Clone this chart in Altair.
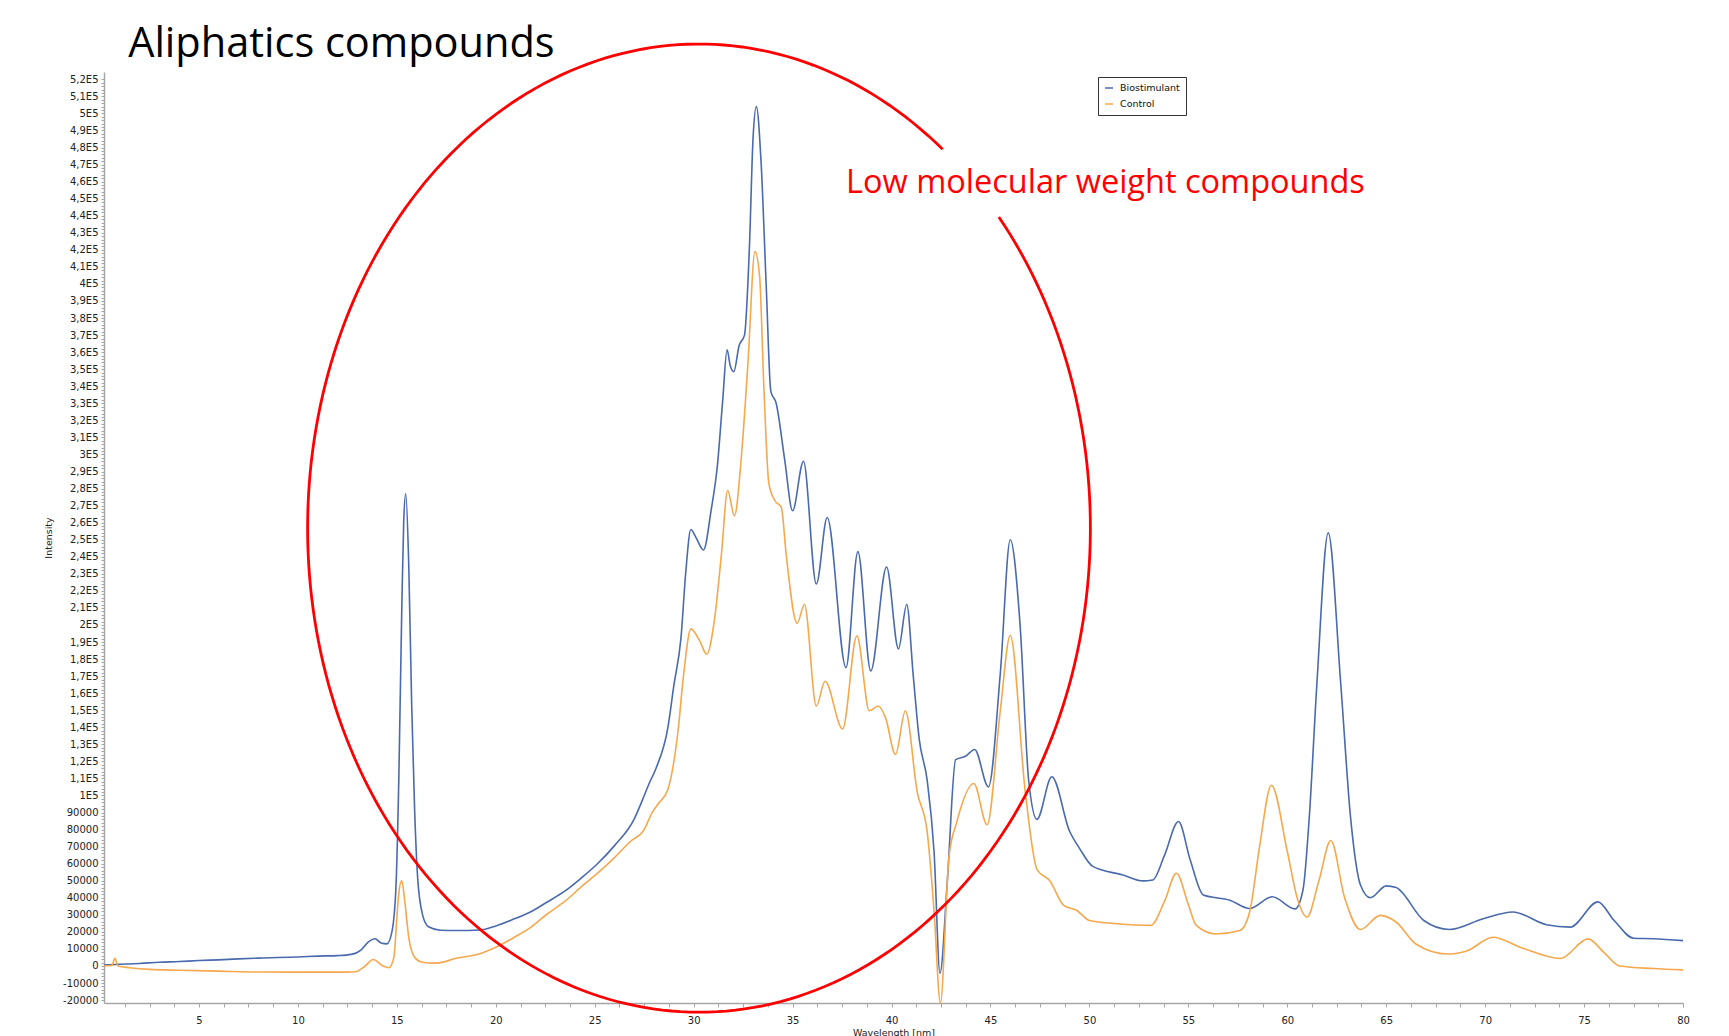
import math
import altair as alt
import pandas as pd

# ---- data (intensity read in thousands) ----
bio_x = [0.2, 1, 2, 3, 4, 5, 6, 7, 8, 9, 10, 11, 12, 12.7, 13.2, 13.55, 13.9, 14.2, 14.5, 14.75,
         14.95, 15.1, 15.25, 15.35, 15.45, 15.6, 15.75, 15.9, 16.05, 16.3, 16.6, 17.2, 18, 19.2, 20,
         20.9, 21.8, 22.6, 23.5, 24.3, 25.1, 26.0, 27.0, 27.4, 27.75, 28.1, 28.7, 29.0, 29.36, 29.6,
         29.86, 30.1, 30.5, 30.88, 31.2, 31.47, 31.69, 31.85, 32.03, 32.3, 32.57, 32.82, 33.0, 33.17,
         33.41, 33.67, 33.9, 34.17, 34.6, 35.0, 35.55, 36.2, 36.75, 37.7, 38.3, 38.95, 39.75, 40.35,
         40.77, 41.1, 41.4, 41.8, 42.15, 42.45, 42.82, 43.24, 43.74, 44.2, 44.9, 45.5, 46.0, 46.5,
         46.93, 47.35, 48.1, 49.0, 49.5, 50.17, 51.7, 52.7, 53.2, 53.8, 54.5, 55.1, 55.76, 57.1, 58.1,
         59.24, 60.4, 60.8, 61.1, 61.5, 62.07, 62.7, 63.2, 63.7, 64.2, 65.0, 65.5, 66.9, 68.2, 69.9,
         71.4, 73.1, 74.3, 75.7, 76.5, 77.5, 78.5, 80]
bio_y = [0.5, 1.0, 1.5, 2.2, 2.6, 3.2, 3.6, 4.2, 4.6, 5.0, 5.3, 5.8, 6.1, 6.8, 9.5, 14, 16, 13.5, 13, 20,
         45, 110, 210, 262, 277, 236, 153, 91, 52, 30, 23, 21, 20.8, 21.1, 23.5,
         27.5, 32, 37.5, 44, 51.4, 59.5, 70.6, 86.3, 97, 107, 116, 140, 164.6, 192.5, 230.8,
         256, 251.7, 244, 267, 293.5, 332, 361.4, 352, 348.6, 364, 370, 422, 485, 504,
         471, 398, 337, 330, 297, 267, 296, 224, 263, 175, 243, 173, 234, 186,
         212, 170, 133, 109, 67, -4.3, 49.7, 121, 123, 127, 105, 172, 250, 199.5,
         109, 86, 111, 79, 69, 58.4, 53.4, 49.9, 50.4, 65, 84.7, 62, 41.6, 38.6, 33.7,
         40.6, 33.5, 45, 85, 166, 254, 166, 87, 47.5, 40, 47, 46, 26.7, 21.4, 27.7,
         31.7, 24.2, 22.8, 37.6, 27, 16.3, 16, 14.9]

ctl_x = [0.2, 0.6, 0.75, 0.9, 1.5, 2.5, 4, 6, 8, 10, 12.5, 12.9, 13.4, 13.8, 14.3, 14.6, 14.85, 15.0,
         15.12, 15.25, 15.4, 15.6, 15.85, 16.2, 16.6, 17, 18, 19.2, 20.0, 20.9, 21.8, 22.6, 23.5, 24.3,
         25.1, 26.0, 26.8, 27.5, 27.9, 28.2, 28.7, 29.2, 29.5, 29.86, 30.3, 30.66, 31.05, 31.4, 31.72,
         32.06, 32.4, 32.74, 33.1, 33.33, 33.55, 33.8, 34.1, 34.43, 34.68, 35.23, 35.6, 36.2, 36.64,
         37.53, 38.25, 38.88, 39.33, 39.7, 40.2, 40.7, 41.3, 41.8, 42.15, 42.47, 42.9, 43.3, 44.16,
         44.83, 45.5, 46.0, 46.76, 47.35, 48.0, 48.7, 49.35, 50.0, 51.4, 53.1, 53.8, 54.4, 55.0, 55.4,
         56.4, 57.6, 58.1, 58.6, 59.2, 60.0, 60.5, 61.0, 61.6, 62.2, 62.9, 63.7, 64.7, 65.5, 66.5,
         68.1, 69.1, 70.4, 71.8, 73.8, 75.2, 76.0, 76.8, 78.5, 80]
ctl_y = [0, 0.3, 4.5, 0, -1, -2, -2.5, -3, -3.5, -3.6, -3.6, -3.4, 0, 3.8, 0, -1, 5, 28,
         45, 50, 38, 17, 6, 2.5, 1.8, 1.7, 4.5, 7.2, 11, 16.6, 23, 30.5, 38, 46.2,
         54, 63.6, 73, 80, 90, 95, 103.7, 136.8, 171.6, 197.7, 190.8, 182.8, 203, 241, 278.9,
         264, 297, 352.7, 419, 405, 339, 283, 273, 269, 241, 201, 212, 152.5, 167,
         139, 193.6, 149.7, 152.5, 145.5, 124, 149.7, 102, 79, 32, -21.5, 63.6, 84.5, 107,
         82.8, 150, 194, 102, 56.7, 50, 35.6, 32.7, 26.7, 24.8, 23.8, 38, 54.4, 36, 23.8,
         18.8, 20.8, 31.7, 70, 106, 67.3, 40, 28.7, 50, 73.6, 40, 21.4, 29.7, 25.8, 12.9,
         7, 9, 16.9, 10.9, 4.4, 15.9, 8, 0, -1.5, -2.3]

series_names = ["Biostimulant", "Control"]
series_colors = ["#4a6aae", "#f5a84d"]

x_ticks = [round(1.25 * k, 2) for k in range(1, 65)]
y_ticks = list(range(-20000, 520001, 2000))

title_text = "Aliphatics compounds"
note_text = "Low molecular weight compounds"

# annotation ellipse (data units) and gap angles in degrees
ell_cx, ell_cy, ell_rx, ell_ry = 30.27, 256800, 19.78, 283900
gap_from, gap_to = 40.0, 51.5

# ---- tables ----
rows = []
for name, xs, ys in [(series_names[0], bio_x, bio_y), (series_names[1], ctl_x, ctl_y)]:
    for a, b in zip(xs, ys):
        rows.append({"x": a, "y": b * 1000, "series": name})
df = pd.DataFrame(rows)

n = 260
ell_rows = []
for i in range(n + 1):
    t = math.radians(gap_to + (360 - (gap_to - gap_from)) * i / n)
    ell_rows.append({"x": ell_cx + ell_rx * math.cos(t), "y": ell_cy + ell_ry * math.sin(t), "i": i})
ell_df = pd.DataFrame(ell_rows)

title_df = pd.DataFrame([{"x": 1.42, "y": 540000, "label": title_text}])
note_df = pd.DataFrame([{"x": 37.7, "y": 459000, "label": note_text}])

# ---- encodings ----
X = alt.X("x:Q", title="Wavelength [nm]",
          scale=alt.Scale(domain=[0.2, 80], nice=False, zero=False),
          axis=alt.Axis(values=x_ticks,
                        labelExpr="datum.value % 5 === 0 ? datum.value + '' : ''",
                        tickSize=4, labelPadding=8, titlePadding=2,
                        labelFlush=False, labelOverlap=False, grid=False))
Y = alt.Y("y:Q", title="Intensity",
          scale=alt.Scale(domain=[-21700, 524300], nice=False, zero=False),
          axis=alt.Axis(values=y_ticks,
                        labelExpr="datum.value % 10000 !== 0 ? '' : (abs(datum.value) >= 100000 ? replace(datum.value / 100000 + '', '.', ',') + 'E5' : datum.value + '')",
                        tickSize=3, labelPadding=3, titlePadding=9,
                        labelFlush=False, labelOverlap=False, grid=False))

lines = alt.Chart(df).mark_line(strokeWidth=1.6, interpolate="monotone").encode(
    x=X, y=Y,
    color=alt.Color("series:N",
                    scale=alt.Scale(domain=series_names, range=series_colors),
                    legend=alt.Legend(title=None, orient="none", legendX=994, legendY=5,
                                      direction="vertical", padding=6, strokeColor="#333333",
                                      fillColor="white", labelFont="DejaVu Sans", labelFontSize=9.5,
                                      labelColor="#111111", symbolType="stroke", symbolSize=64,
                                      symbolStrokeWidth=1.5, labelOffset=6, rowPadding=6,
                                      cornerRadius=0, offset=0)),
    detail="series:N",
)

ellipse = alt.Chart(ell_df).mark_line(color="#ff0000", strokeWidth=2.8).encode(
    x=X, y=Y, order="i:Q")

title_mark = alt.Chart(title_df).mark_text(align="left", baseline="middle", font="Open Sans",
                                           fontSize=41.5, color="#000000").encode(
    x=X, y=Y, text="label:N")
note_mark = alt.Chart(note_df).mark_text(align="left", baseline="middle", font="Open Sans",
                                         fontSize=32.5, color="#ff0000").encode(
    x=X, y=Y, text="label:N")

chart = alt.layer(lines, ellipse, title_mark, note_mark).properties(
    width=1579, height=931,
    autosize=alt.AutoSizeParams(type="none"),
    padding={"left": 104, "top": 72, "right": 46, "bottom": 33},
    background="white",
).configure_view(stroke=None).configure_axis(
    labelFont="DejaVu Sans", labelFontSize=10, labelColor="#222222",
    titleFont="DejaVu Sans", titleFontSize=9.5, titleFontWeight="normal", titleColor="#222222",
    domainColor="#a6a6a6", domainWidth=1.5, tickColor="#a6a6a6",
)

chart.save("out.html", embed_options={"renderer": "svg", "actions": False})
